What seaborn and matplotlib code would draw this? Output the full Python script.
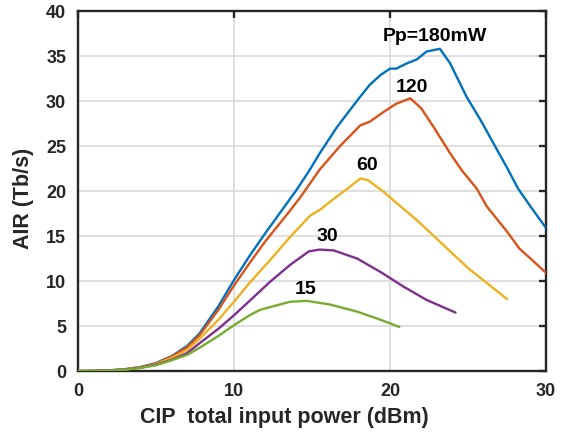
import numpy as np
import pandas as pd
import matplotlib
matplotlib.use("Agg")
import matplotlib.pyplot as plt
import seaborn as sns

# ---- data ----
blue_x = [0, 1, 2, 3, 4, 5, 6, 7, 7.8, 9, 10, 11, 12, 13, 14, 14.8, 15.5, 16.6, 17.3, 18.1,
          18.7, 19.4, 20.0, 20.4, 21.1, 21.7, 22.35, 23.2, 23.85, 24.9, 25.8, 27.05, 27.5,
          28.2, 29.0, 30.0]
blue_y = [0, 0.02, 0.08, 0.2, 0.45, 0.9, 1.65, 2.8, 4.2, 7.2, 10.1, 12.8, 15.3, 17.7, 20.1,
          22.2, 24.2, 27.1, 28.7, 30.5, 31.8, 32.9, 33.6, 33.6, 34.2, 34.6, 35.5, 35.8, 34.2,
          30.5, 27.9, 24.0, 22.6, 20.3, 18.3, 15.9]

red_x = [0, 1, 2, 3, 4, 5, 6, 7, 7.8, 9, 10, 11, 12, 13.4, 14.25, 15.5, 16.8, 18.1, 18.7,
         19.6, 20.4, 21.3, 22.0, 22.8, 23.85, 24.6, 25.55, 26.2, 27.5, 28.3, 29.2, 30.0]
red_y = [0, 0.02, 0.08, 0.2, 0.43, 0.85, 1.6, 2.65, 4.0, 6.8, 9.5, 12.0, 14.4, 17.4, 19.3,
         22.4, 25.0, 27.3, 27.7, 28.8, 29.7, 30.3, 29.2, 27.1, 24.2, 22.3, 20.3, 18.3, 15.5,
         13.6, 12.2, 10.9]

yellow_x = [0, 1, 2, 3, 4, 5, 6, 7, 7.8, 9, 10, 11, 12.3, 13.6, 14.9, 15.5, 16.3, 16.6,
            17.3, 18.1, 18.6, 19.6, 20.2, 21.7, 23.0, 24.1, 25.1, 26.2, 27.5]
yellow_y = [0, 0.02, 0.07, 0.18, 0.4, 0.8, 1.45, 2.35, 3.6, 5.7, 7.7, 9.8, 12.3, 14.9, 17.3,
            17.9, 19.0, 19.4, 20.3, 21.4, 21.2, 19.9, 19.0, 16.8, 14.7, 12.9, 11.3, 9.8, 8.0]

purple_x = [0, 1, 2, 3, 4, 5, 6, 7, 7.8, 9, 10, 11, 12.3, 13.6, 14.8, 15.5, 16.4, 17.9,
            19.4, 20.85, 22.35, 24.2]
purple_y = [0, 0.02, 0.07, 0.17, 0.38, 0.72, 1.25, 2.0, 3.1, 4.7, 6.2, 7.8, 9.9, 11.8, 13.3,
            13.5, 13.4, 12.5, 11.0, 9.4, 7.9, 6.5]

green_x = [0, 1, 2, 3, 4, 5, 6, 7, 7.8, 9, 10, 11, 11.67, 12.3, 13.6, 14.65, 16.15, 17.9,
           19.4, 20.6]
green_y = [0, 0.02, 0.06, 0.15, 0.35, 0.65, 1.2, 1.8, 2.6, 3.9, 5.1, 6.2, 6.8, 7.1, 7.7,
           7.8, 7.4, 6.6, 5.7, 4.9]

series_names = ["180", "120", "60", "30", "15"]
label_texts = ["Pp=180mW", "120", "60", "30", "15"]
label_x = [22.9, 21.4, 18.5, 16.0, 14.6]
label_y = [37.2, 31.5, 22.8, 14.9, 9.1]

x_ticks = [0, 10, 20, 30]
y_ticks = [0, 5, 10, 15, 20, 25, 30, 35, 40]

colors = ["#0072BD", "#D95319", "#EDB120", "#7E2F8E", "#77AC30"]

frames = []
for name, xs, ys in zip(series_names,
                        [blue_x, red_x, yellow_x, purple_x, green_x],
                        [blue_y, red_y, yellow_y, purple_y, green_y]):
    frames.append(pd.DataFrame({"x": xs, "y": ys, "Pp": name}))
df = pd.concat(frames, ignore_index=True)

sns.set_style("white")
plt.rcParams['font.family'] = ['Liberation Sans', 'DejaVu Sans']

fig = plt.figure(figsize=(5.69, 4.32), dpi=100)
ax = fig.add_axes([0.137, 0.141, 0.8226, 0.8335])

sns.lineplot(data=df, x="x", y="y", hue="Pp", hue_order=series_names,
             palette=dict(zip(series_names, colors)), sort=False, estimator=None,
             linewidth=1.7, legend=False, ax=ax, zorder=3)

ax.set_xlim(0, 30)
ax.set_ylim(0, 40)
ax.set_xticks(x_ticks)
ax.set_yticks(y_ticks)
ax.set_xticklabels([str(t) for t in x_ticks], fontsize=13, fontweight='bold', color='#262626')
ax.set_yticklabels([str(t) for t in y_ticks], fontsize=13, fontweight='bold', color='#262626')

ax.grid(True, color='#dcdcdc', linewidth=1.3, zorder=0)
ax.set_axisbelow(True)
for s in ax.spines.values():
    s.set_visible(True)
    s.set_color('#262626')
    s.set_linewidth(1.7)
ax.tick_params(axis='both', which='both', direction='in', length=5, width=1.7,
               top=True, right=True, color='#262626', pad=8.5)

ax.set_xlabel("CIP  total input power (dBm)", fontsize=15.5, fontweight='bold', color='#262626')
ax.set_ylabel("AIR (Tb/s)", fontsize=15.5, fontweight='bold', color='#262626')
ax.xaxis.set_label_coords(0.442, -0.100)
ax.yaxis.set_label_coords(-0.094, 0.479)

for t, lx, ly in zip(label_texts, label_x, label_y):
    ax.text(lx, ly, t, fontsize=14, fontweight='bold', color='black',
            ha='center', va='center', zorder=4)

fig.savefig("out.png", dpi=100)
